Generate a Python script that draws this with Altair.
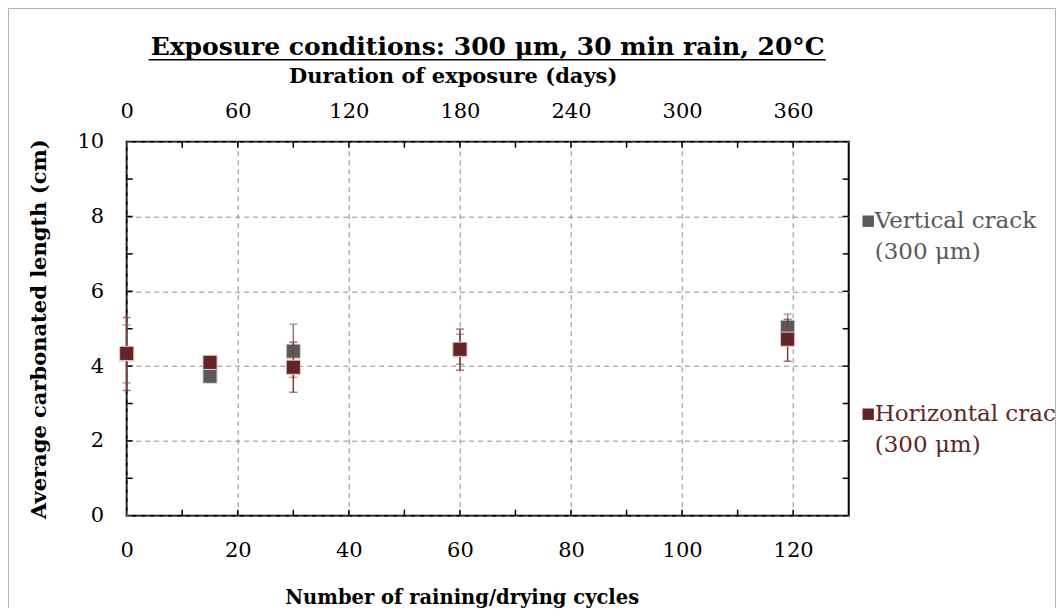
import altair as alt
import pandas as pd

# ---------------- data ----------------
cycles = [0, 15, 30, 60, 119]
vert_mean = [4.32, 3.73, 4.40, 4.43, 5.04]
vert_low = [3.55, None, 3.70, 4.05, 4.75]
vert_high = [5.10, None, 5.12, 4.85, 5.39]
hor_mean = [4.34, 4.10, 3.97, 4.45, 4.72]
hor_low = [3.35, None, 3.30, 3.89, 4.13]
hor_high = [5.30, None, 4.64, 4.99, 5.25]

series_names = ["Vertical crack (300 μm)", "Horizontal crack (300 μm)"]
series_colors = ["#595959", "#632523"]
bar_colors = ["#808080", "#8b3a3a"]
edge_colors = ["#d9d9d9", "#e6cccc"]

x_labels = [0, 20, 40, 60, 80, 100, 120]
x_ticks = [10, 20, 30, 40, 50, 60, 70, 80, 90, 100, 110, 120]
y_labels = [0, 2, 4, 6, 8, 10]
y_ticks = [1, 2, 3, 4, 5, 6, 7, 8, 9]
day_labels = [0, 60, 120, 180, 240, 300, 360]
day_ticks = [30, 60, 90, 120, 150, 180, 210, 240, 270, 300, 330, 360]

title_text = "Exposure conditions: 300 μm, 30 min rain, 20°C"
x_title = "Number of raining/drying cycles"
top_title = "Duration of exposure (days)"
y_title = "Average carbonated length (cm)"

FONT = "DejaVu Serif"
W, H = 722, 374

df_v = pd.DataFrame({"cycle": cycles, "val": vert_mean, "lo": vert_low, "hi": vert_high,
                     "series": series_names[0]})
df_h = pd.DataFrame({"cycle": cycles, "val": hor_mean, "lo": hor_low, "hi": hor_high,
                     "series": series_names[1]})

xs = alt.Scale(domain=[0, 130], nice=False, zero=False)
ys = alt.Scale(domain=[0, 10], nice=False, zero=False)

xaxis = alt.Axis(values=x_labels, title=x_title, grid=True, gridDash=[5, 4], gridColor="#8c8c8c",
                 gridWidth=1, ticks=False, domain=False, labelFont=FONT, labelFontSize=21,
                 labelColor="black", labelPadding=24, labelFlush=False, titleFont=FONT,
                 titleFontSize=19.5, titleFontWeight="bold", titleColor="black", titleX=335,
                 titleY=82, titleBaseline="middle")
yaxis = alt.Axis(values=y_labels, title=y_title, grid=True, gridDash=[5, 4], gridColor="#8c8c8c",
                 gridWidth=1, ticks=False, domain=False, labelFont=FONT, labelFontSize=21,
                 labelColor="black", labelPadding=23, labelFlush=False, titleFont=FONT,
                 titleFontSize=21, titleFontWeight="bold", titleColor="black", titleX=-87,
                 titleY=187, titleBaseline="middle", titleAlign="center", titleAngle=270)

legend = alt.Legend(title=None, orient="none", legendX=730, legendY=68, direction="vertical",
                    symbolType="square", symbolSize=130, symbolStrokeWidth=0,
                    labelFont=FONT, labelFontSize=23, labelOffset={"expr": "-5"}, rowPadding=138,
                    labelLimit=400,
                    labelExpr="[replace(datum.label, ' (300 μm)', ''), '(300 μm)']",
                    labelColor={"expr": "indexof(datum.value, 'Vertical') >= 0 ? '#595959' : '#632523'"})

X = alt.X("cycle:Q", scale=xs, axis=xaxis)
Y = alt.Y("val:Q", scale=ys, axis=yaxis)
color = alt.Color("series:N", scale=alt.Scale(domain=series_names, range=series_colors), legend=legend)


def bars(df, c):
    d = df.dropna()
    rule = alt.Chart(d).mark_rule(color=c, strokeWidth=1.5).encode(
        x=X, y=alt.Y("lo:Q", scale=ys, axis=yaxis), y2="hi:Q")
    caps = alt.Chart(d).transform_fold(["lo", "hi"], as_=["k", "capv"]).mark_tick(
        orient="horizontal", size=8, thickness=1.5, color=c).encode(
        x=X, y=alt.Y("capv:Q", scale=ys, axis=yaxis))
    return rule + caps


def points(df, edge):
    return alt.Chart(df).mark_square(size=200, opacity=1, stroke=edge, strokeWidth=1).encode(
        x=X, y=Y, color=color)


tick_x = pd.DataFrame({"tick": x_ticks})
tick_y = pd.DataFrame({"tick": y_ticks})
bottom_ticks = alt.Chart(tick_x).mark_rule(color="black", strokeWidth=1.5).encode(
    x=alt.X("tick:Q", scale=xs, axis=xaxis), y=alt.value(H), y2=alt.value(H - 6))
left_ticks = alt.Chart(tick_y).mark_rule(color="black", strokeWidth=1.5).encode(
    y=alt.Y("tick:Q", scale=ys, axis=yaxis), x=alt.value(0), x2=alt.value(6))
right_ticks = alt.Chart(tick_y).mark_rule(color="black", strokeWidth=1.5).encode(
    y=alt.Y("tick:Q", scale=ys, axis=yaxis), x=alt.value(W), x2=alt.value(W - 6))

one = pd.DataFrame({"a": [0]})
title_mark = alt.Chart(one).mark_text(text=title_text, font=FONT, fontSize=25, fontWeight="bold",
                                      color="black", align="center", baseline="alphabetic").encode(
    x=alt.value(W / 2), y=alt.value(-87))
underline = alt.Chart(one).mark_rule(color="black", strokeWidth=1.5).encode(
    x=alt.value(22), x2=alt.value(699), y=alt.value(-82))
border = alt.Chart(one).mark_rect(fillOpacity=0, stroke="#b3b3b3", strokeWidth=1).encode(
    x=alt.value(-118.2), x2=alt.value(928.8), y=alt.value(-133.2), y2=alt.value(480))

inner = alt.layer(
    border, bottom_ticks, left_ticks, right_ticks,
    bars(df_v, bar_colors[0]), points(df_v, edge_colors[0]),
    bars(df_h, bar_colors[1]), points(df_h, edge_colors[1]),
    title_mark, underline,
)

ds = alt.Scale(domain=[0, 390], nice=False, zero=False)
topaxis = alt.Axis(orient="top", values=day_labels, title=top_title, grid=False, ticks=False,
                   domain=False, labelFont=FONT, labelFontSize=21, labelColor="black",
                   labelPadding=20, labelFlush=False, titleFont=FONT, titleFontSize=21,
                   titleFontWeight="bold", titleColor="black", titleX=326, titleY=-65,
                   titleBaseline="middle")
top_pts = alt.Chart(pd.DataFrame({"d": [0, 390]})).mark_point(opacity=0).encode(
    x=alt.X("d:Q", scale=ds, axis=topaxis))
top_ticks = alt.Chart(pd.DataFrame({"d": day_ticks})).mark_rule(color="black", strokeWidth=1.5).encode(
    x=alt.X("d:Q", scale=ds, axis=topaxis), y=alt.value(0), y2=alt.value(6))
top = alt.layer(top_pts, top_ticks)

chart = alt.layer(inner, top).resolve_scale(x="independent").properties(
    width=W, height=H,
    autosize=alt.AutoSizeParams(type="none"),
    padding={"left": 118.7, "top": 133.7, "right": 207.3, "bottom": 92.3},
    background="white",
).configure(
    view=alt.ViewConfig(stroke="black", strokeWidth=2),
    style={"guide-label": {"lineHeight": 31}},
)

chart.save("out.html", embed_options={"renderer": "svg", "actions": False})
